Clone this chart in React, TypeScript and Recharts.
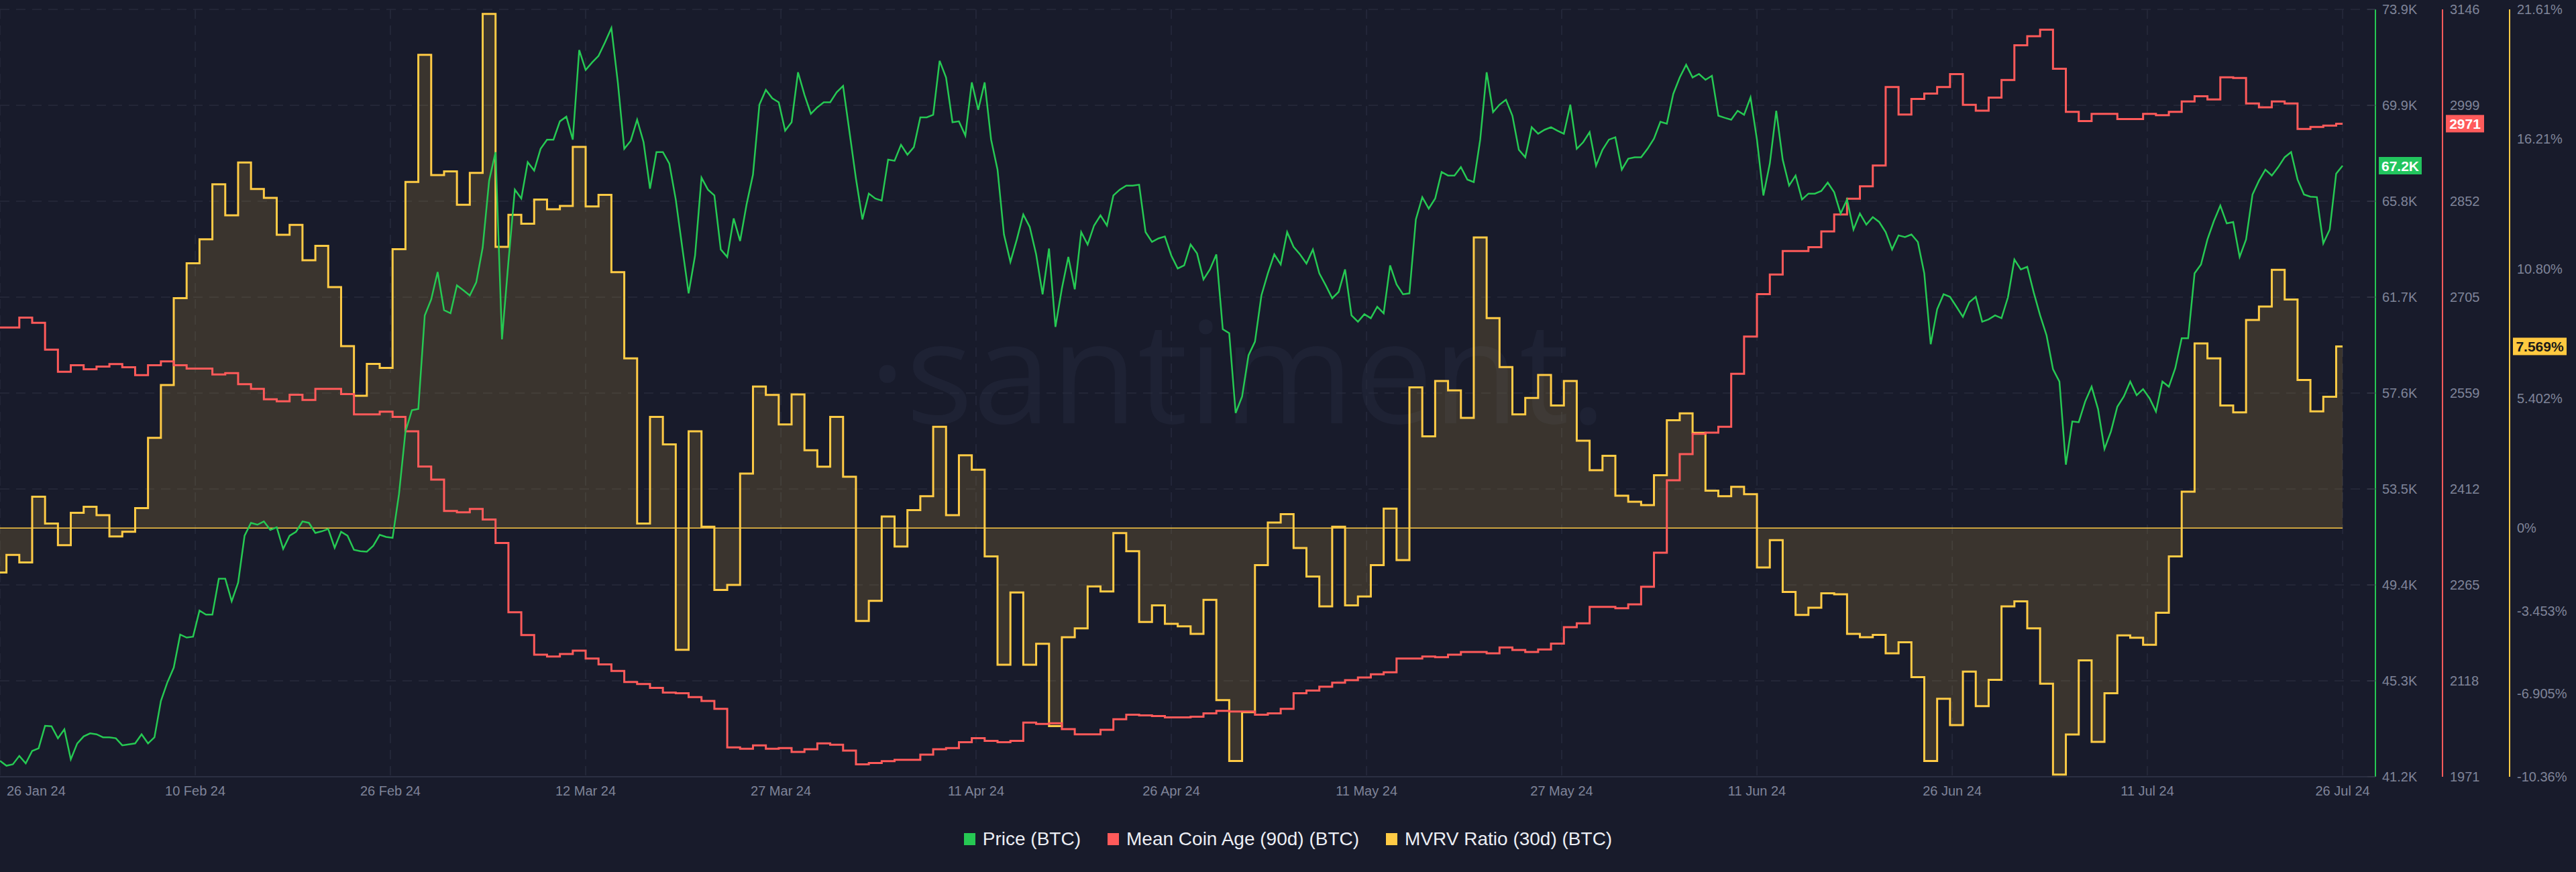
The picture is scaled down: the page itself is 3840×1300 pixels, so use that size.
import React from 'react';
import { ComposedChart, Line, Area, XAxis, YAxis, CartesianGrid, ReferenceLine } from 'recharts';

const FONT = '"Liberation Sans", Arial, sans-serif';
const BG = '#181b2b';
const GREEN = '#26c953';
const RED = '#ff5a5a';
const YELLOW = '#ffcb45';
const TICK = '#7f8499';
const GRID = '#272b3d';

// axis ids (ordered so that the price axis sits next to the plot)
const Y_PRICE = 'y1price';
const Y_AGE = 'y2age';
const Y_MVRV = 'y3mvrv';

// X axis: day index (0 = 26 Jan 24) and tick labels
const xTickDays = [0, 15.17, 30.33, 45.5, 60.67, 75.83, 91, 106.17, 121.33, 136.5, 151.67, 166.83, 182];
const xTickLabels = ['26 Jan 24', '10 Feb 24', '26 Feb 24', '12 Mar 24', '27 Mar 24', '11 Apr 24', '26 Apr 24', '11 May 24', '27 May 24', '11 Jun 24', '26 Jun 24', '11 Jul 24', '26 Jul 24'];

const priceTicks = [41.2, 45.2875, 49.375, 53.4625, 57.55, 61.6375, 65.725, 69.8125, 73.9];
const priceTickLabels = ['41.2K', '45.3K', '49.4K', '53.5K', '57.6K', '61.7K', '65.8K', '69.9K', '73.9K'];
const ageTicks = [1971, 2117.875, 2264.75, 2411.625, 2558.5, 2705.375, 2852.25, 2999.125, 3146];
const ageTickLabels = ['1971', '2118', '2265', '2412', '2559', '2705', '2852', '2999', '3146'];
const mvrvTicks = [-10.36, -6.905, -3.453, 0, 5.402, 10.8, 16.21, 21.61];
const mvrvTickLabels = ['-10.36%', '-6.905%', '-3.453%', '0%', '5.402%', '10.80%', '16.21%', '21.61%'];

// Price (BTC), thousands of USD, sampled every half day from 26 Jan 24
const priceK = [
  41.88, 41.67, 41.73, 42.09, 41.77, 42.30, 42.41, 43.37, 43.35, 42.84,
  43.22, 41.94, 42.62, 42.92, 43.05, 43.01, 42.88, 42.88, 42.84, 42.54,
  42.58, 42.62, 43.01, 42.62, 42.88, 44.43, 45.22, 45.85, 47.26, 47.13,
  47.17, 48.28, 48.11, 48.11, 49.64, 49.64, 48.68, 49.47, 51.47, 52.02,
  51.94, 52.08, 51.72, 51.83, 50.91, 51.47, 51.64, 52.08, 52.02, 51.59,
  51.66, 51.76, 50.96, 51.64, 51.47, 50.87, 50.81, 50.79, 51.04, 51.51,
  51.42, 51.38,
  53.25, 55.91, 56.82, 56.87, 60.86, 61.54, 62.71, 61.08, 60.95, 62.14,
  61.93, 61.71, 62.27, 63.75, 66.60, 67.82, 59.84, 63.14, 66.22, 65.84,
  67.39, 67.03, 67.96, 68.35, 68.35, 69.13, 69.33, 68.35, 72.17, 71.32,
  71.64, 71.92, 72.49, 73.11, 70.79, 67.96, 68.30, 69.20, 68.24, 66.26,
  67.82, 67.82, 67.33, 65.80, 63.78, 61.80, 63.41, 66.73, 66.22, 65.97,
  63.67, 63.35, 64.99, 64.03, 65.58, 66.86, 69.84, 70.47, 70.11, 69.94,
  68.73, 69.09,
  71.22, 70.26, 69.45, 69.73, 69.94, 69.94, 70.37, 70.64, 68.67, 66.69,
  64.95, 66.05, 65.84, 65.75, 67.50, 67.45, 68.13, 67.71, 68.03, 69.30,
  69.30, 69.41, 71.71, 71.00, 69.09, 69.13, 68.52, 70.79, 69.62, 70.79,
  68.35, 67.07, 64.31, 63.14, 64.10, 65.16, 64.63, 63.46, 61.76, 63.71,
  60.37, 62.01, 63.35, 61.97, 64.41, 63.88, 64.69, 65.12, 64.69, 65.97,
  66.22, 66.39, 66.39, 66.43, 64.41, 63.99, 64.14, 64.22, 63.41, 62.86,
  62.99, 63.88,
  63.50, 62.39, 62.82, 63.46, 60.27, 60.10, 56.70, 57.40, 59.16, 59.74,
  61.71, 62.65, 63.46, 63.03, 64.41, 63.78, 63.46, 63.07, 63.67, 62.65,
  62.14, 61.59, 61.86, 62.82, 60.86, 60.59, 60.91, 60.74, 61.23, 60.95,
  62.99, 62.18, 61.76, 61.80, 64.95, 65.90, 65.41, 65.84, 66.97, 66.82,
  66.82, 67.18, 66.65, 66.54, 68.35, 71.22, 69.52, 69.84, 70.05, 69.37,
  67.92, 67.60, 68.88, 68.60, 68.77, 68.88, 68.73, 68.60, 69.84, 67.96,
  68.24,
  68.67, 67.24, 67.92, 68.35, 68.45, 67.07, 67.54, 67.60, 67.60, 67.96,
  68.39, 69.11, 69.03, 70.30, 71.00, 71.54, 71.00, 71.15, 70.90, 71.07,
  69.37, 69.28, 69.20, 69.58, 69.41, 70.15, 68.35, 65.97, 67.33, 69.58,
  67.50, 66.39, 66.82, 65.80, 66.05, 66.05, 66.16, 66.52, 66.11, 65.20,
  65.80, 64.52, 65.20, 64.73, 65.05, 64.84, 64.41, 63.67, 64.27, 64.20,
  64.31, 63.99, 62.65, 59.63, 61.12, 61.76, 61.65, 61.23, 60.80, 61.42,
  61.65,
  60.59, 60.69, 60.86, 60.74, 61.63, 63.24, 62.82, 62.93, 61.84, 60.86,
  60.01, 58.57, 58.04, 54.50, 56.34, 56.31, 57.19, 57.82, 56.87, 55.17,
  55.91, 56.97, 57.40, 58.04, 57.46, 57.72, 57.33, 56.76, 58.04, 57.82,
  58.61, 59.89, 59.89, 62.65, 63.03, 64.10, 64.88, 65.54, 64.78, 64.84,
  63.35, 64.10, 66.01, 66.60, 67.07, 66.82, 67.18, 67.60, 67.82, 66.65,
  66.01, 65.92, 65.90, 63.93, 64.52, 66.90, 67.24,
];

// Mean Coin Age (90d) (BTC), daily
const coinAge = [
  2659, 2659, 2674, 2666, 2625, 2591, 2601, 2595, 2599, 2603,
  2598, 2586, 2601, 2607, 2601, 2596, 2596, 2587, 2589, 2572,
  2565, 2549, 2546, 2556, 2548, 2565, 2565, 2557, 2526, 2526,
  2530, 2522, 2500, 2446, 2426, 2378, 2376, 2381, 2365, 2329,
  2223, 2188, 2158, 2155, 2159, 2164, 2152, 2143, 2133, 2116,
  2113, 2107, 2100, 2099, 2093, 2087, 2075, 2016, 2014, 2019,
  2014, 2015, 2009, 2013, 2022, 2020, 2011, 1990, 1992, 1995,
  1997, 1997, 2005, 2013, 2015, 2024, 2030, 2026, 2024, 2026,
  2054, 2052, 2053, 2044, 2036, 2036, 2043, 2059, 2066, 2065,
  2064, 2062, 2062, 2063, 2068, 2072, 2071, 2071, 2066, 2068,
  2075, 2099, 2103, 2109, 2115, 2119, 2123, 2128, 2131, 2152,
  2152, 2155, 2154, 2158, 2162, 2162, 2160, 2169, 2165, 2162,
  2166, 2175, 2200, 2206, 2231, 2231, 2229, 2235, 2262, 2314,
  2425, 2465, 2496, 2498, 2507, 2588, 2645, 2710, 2740, 2776,
  2776, 2782, 2806, 2832, 2856, 2875, 2907, 3027, 2985, 3009,
  3017, 3027, 3047, 3000, 2991, 3011, 3038, 3091, 3105, 3115,
  3055, 2989, 2975, 2986, 2986, 2978, 2978, 2986, 2984, 2989,
  3005, 3013, 3008, 3042, 3041, 3002, 2996, 3005, 3002, 2963,
  2966, 2968, 2971,
];

// MVRV Ratio (30d) (BTC), percent, daily
const mvrv30d = [
  -1.85, -1.12, -1.43, 1.31, 0.19, -0.71, 0.64, 0.89, 0.54, -0.35,
  -0.15, 0.83, 3.76, 5.96, 9.58, 11.03, 12.03, 14.32, 13.03, 15.23,
  14.13, 13.76, 12.22, 12.63, 11.16, 11.76, 10.04, 7.58, 5.51, 6.84,
  6.67, 11.62, 14.42, 19.72, 14.71, 14.86, 13.47, 14.80, 21.42, 11.72,
  13.05, 12.68, 13.69, 13.28, 13.42, 15.88, 13.40, 13.88, 10.66, 7.07,
  0.19, 4.63, 3.49, -5.07, 4.03, 0.06, -2.58, -2.37, 2.27, 5.90,
  5.55, 4.32, 5.57, 3.24, 2.56, 4.63, 2.14, -3.87, -3.03, 0.48,
  -0.77, 0.75, 1.33, 4.22, 0.54, 3.03, 2.43, -1.18, -5.69, -2.68,
  -5.69, -4.82, -8.25, -4.55, -4.18, -2.43, -2.64, -0.21, -0.96, -3.91,
  -3.22, -3.99, -4.09, -4.41, -2.99, -7.17, -9.70, -7.67, -1.54, 0.23,
  0.58, -0.83, -2.02, -3.26, 0.06, -3.22, -2.85, -1.54, 0.81, -1.33,
  5.86, 3.82, 6.13, 5.74, 4.59, 12.11, 8.75, 6.71, 4.74, 5.42,
  6.38, 5.11, 6.13, 3.64, 2.41, 3.01, 1.35, 1.10, 0.96, 2.20,
  4.49, 4.78, 3.97, 1.56, 1.33, 1.72, 1.41, -1.64, -0.50, -2.66,
  -3.62, -3.32, -2.72, -2.76, -4.41, -4.55, -4.45, -5.22, -4.76, -6.21,
  -9.70, -7.11, -8.21, -5.98, -7.42, -6.32, -3.26, -3.05, -4.18, -6.48,
  -10.27, -8.60, -5.51, -8.91, -6.88, -4.47, -4.57, -4.86, -3.53, -1.18,
  1.52, 7.69, 7.07, 5.11, 4.82, 8.67, 9.23, 10.76, 9.52, 6.17,
  4.86, 5.47, 7.569,
];

const legendItems = [
  { label: 'Price (BTC)', color: GREEN },
  { label: 'Mean Coin Age (90d) (BTC)', color: RED },
  { label: 'MVRV Ratio (30d) (BTC)', color: YELLOW },
];

const data = priceK.map((p, k) => ({
  t: k / 2,
  price: p,
  age: k % 2 === 0 ? coinAge[k / 2] : null,
  mvrv: k % 2 === 0 ? mvrv30d[k / 2] : null,
}));

const lastPrice = priceK[priceK.length - 1];
const lastAge = coinAge[coinAge.length - 1];
const lastMvrv = mvrv30d[mvrv30d.length - 1];

const XTick = (props: any) => {
  const { x, y, index } = props;
  const first = index === 0;
  return (
    <text x={first ? x + 10 : x} y={y} dy="0.71em" textAnchor={first ? 'start' : 'middle'} fill={TICK} fontSize={20} fontFamily={FONT}>
      {xTickLabels[index]}
    </text>
  );
};

const Badge = ({ viewBox, dx, w, fill, color, text }: any) => {
  if (!viewBox) return null;
  const bx = viewBox.x + viewBox.width + dx;
  const y = viewBox.y;
  return (
    <g>
      <rect x={bx} y={y - 13} width={w} height={26} fill={fill} />
      <text x={bx + w / 2} y={y} dy="0.36em" textAnchor="middle" fill={color} fontSize={21} fontWeight={600} fontFamily={FONT}>
        {text}
      </text>
    </g>
  );
};

export default function App() {
  return (
    <div style={{ position: 'relative', width: 3840, height: 1300, background: BG, overflow: 'hidden' }}>
      <style>{'html,body{margin:0;padding:0;background:#181b2b;}'}</style>
      <svg width={3840} height={1300} style={{ position: 'absolute', left: 0, top: 0 }}>
        <text x={1845} y={631} textAnchor="middle" fontSize={210} fill="#1e2234" fontFamily='"Open Sans", sans-serif'>
          ·santiment.
        </text>
      </svg>
      <div style={{ position: 'absolute', left: 0, top: 0 }}>
        <ComposedChart width={3840} height={1300} data={data} margin={{ top: 14, right: 0, bottom: 102, left: 0 }}>
          <CartesianGrid yAxisId={Y_PRICE} stroke={GRID} strokeWidth={1.5} strokeDasharray="14 10" />
          <XAxis
            dataKey="t"
            type="number"
            domain={[0, 184.55]}
            ticks={xTickDays}
            interval={0}
            allowDataOverflow
            height={40}
            tickSize={0}
            tickMargin={14}
            tickLine={false}
            axisLine={{ stroke: '#2b2f42', strokeWidth: 2 }}
            tick={<XTick />}
          />
          <YAxis
            yAxisId={Y_PRICE}
            orientation="right"
            domain={[41.2, 73.9]}
            ticks={priceTicks}
            interval={0}
            allowDataOverflow
            width={100}
            tickSize={-12}
            tickMargin={22}
            tickLine={{ stroke: '#343849', strokeWidth: 1.5 }}
            axisLine={{ stroke: GREEN, strokeWidth: 2 }}
            tick={{ fill: TICK, fontSize: 20, fontFamily: FONT }}
            tickFormatter={(v: number, i: number) => priceTickLabels[i]}
          />
          <YAxis
            yAxisId={Y_AGE}
            orientation="right"
            domain={[1971, 3146]}
            ticks={ageTicks}
            interval={0}
            allowDataOverflow
            width={100}
            tickSize={0}
            tickMargin={11}
            tickLine={false}
            axisLine={{ stroke: RED, strokeWidth: 2 }}
            tick={{ fill: TICK, fontSize: 20, fontFamily: FONT }}
            tickFormatter={(v: number, i: number) => ageTickLabels[i]}
          />
          <YAxis
            yAxisId={Y_MVRV}
            orientation="right"
            domain={[-10.36, 21.61]}
            ticks={mvrvTicks}
            interval={0}
            allowDataOverflow
            width={99}
            tickSize={0}
            tickMargin={11}
            tickLine={false}
            axisLine={{ stroke: YELLOW, strokeWidth: 2 }}
            tick={{ fill: TICK, fontSize: 20, fontFamily: FONT }}
            tickFormatter={(v: number, i: number) => mvrvTickLabels[i]}
          />
          <Area
            yAxisId={Y_MVRV}
            dataKey="mvrv"
            type="step"
            baseValue={0}
            stroke={YELLOW}
            strokeWidth={3}
            fill={YELLOW}
            fillOpacity={0.15}
            connectNulls
            dot={false}
            activeDot={false}
            isAnimationActive={false}
          />
          <ReferenceLine yAxisId={Y_MVRV} segment={[{ x: 0, y: 0 }, { x: 182, y: 0 }]} stroke={YELLOW} strokeWidth={1.5} />
          <Line
            yAxisId={Y_AGE}
            dataKey="age"
            type="step"
            stroke={RED}
            strokeWidth={3}
            connectNulls
            dot={false}
            activeDot={false}
            isAnimationActive={false}
          />
          <Line
            yAxisId={Y_PRICE}
            dataKey="price"
            type="linear"
            stroke={GREEN}
            strokeWidth={2.5}
            dot={false}
            activeDot={false}
            isAnimationActive={false}
          />
          <ReferenceLine
            yAxisId={Y_PRICE}
            y={lastPrice}
            stroke="none"
            label={(p: any) => <Badge viewBox={p.viewBox} dx={5} w={64} fill="#22c55e" color="#ffffff" text={`${lastPrice.toFixed(1)}K`} />}
          />
          <ReferenceLine
            yAxisId={Y_AGE}
            y={lastAge}
            stroke="none"
            label={(p: any) => <Badge viewBox={p.viewBox} dx={105} w={57} fill="#ff5b5b" color="#ffffff" text={`${Math.round(lastAge)}`} />}
          />
          <ReferenceLine
            yAxisId={Y_MVRV}
            y={lastMvrv}
            stroke="none"
            label={(p: any) => <Badge viewBox={p.viewBox} dx={205} w={80} fill="#ffc940" color="#1a1a1a" text={`${lastMvrv.toFixed(3)}%`} />}
          />
        </ComposedChart>
      </div>
      <div
        style={{
          position: 'absolute',
          left: 0,
          top: 1233,
          width: 3840,
          height: 36,
          display: 'flex',
          justifyContent: 'center',
          alignItems: 'center',
          fontFamily: FONT,
          fontSize: 28,
          color: '#eceef4',
        }}
      >
        {legendItems.map((it, i) => (
          <div key={it.label} style={{ display: 'flex', alignItems: 'center', marginLeft: i === 0 ? 0 : 40 }}>
            <div style={{ width: 17, height: 18, background: it.color, marginRight: 11 }} />
            <span>{it.label}</span>
          </div>
        ))}
      </div>
    </div>
  );
}
